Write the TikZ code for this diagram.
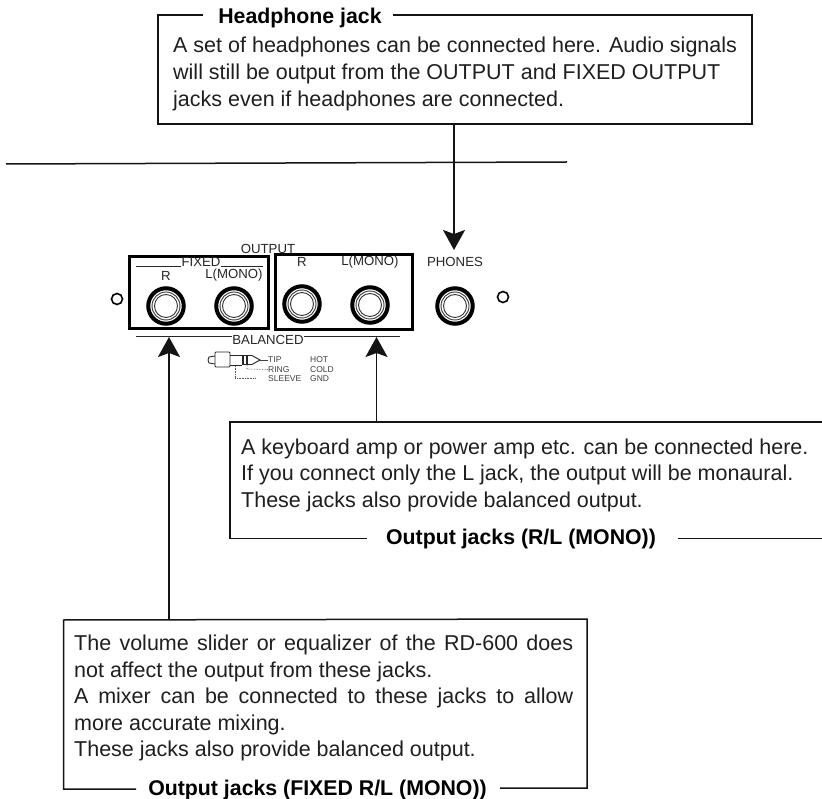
\documentclass[tikz,border=0pt]{standalone}
\usepackage{fontspec}
\setmainfont{Liberation Sans}
\usetikzlibrary{arrows.meta}
\tikzset{
  frame/.style={line width=1.5pt,black!92},
  arrowline/.style={line width=1.8pt,black!92,-{Stealth[length=20pt,width=22pt,inset=4pt]}},
  body/.style={anchor=base west,inner sep=0pt,font=\fontsize{21.5}{26}\selectfont,text=black!88},
  head/.style={anchor=base,inner sep=0pt,font=\fontsize{21.3}{26}\selectfont\bfseries,text=black},
  panel/.style={draw=black,line width=3pt,inner sep=0pt},
  tiny/.style={anchor=center,inner sep=0pt,font=\fontsize{13.2}{15}\selectfont,text=black!85},
  micro/.style={anchor=west,inner sep=0pt,font=\fontsize{8.5}{10}\selectfont,text=black!75},
  hole/.style={circle,draw=black,line width=1.6pt,minimum size=11pt,inner sep=0pt},
  jackring/.style={circle,draw=black,line width=4pt,minimum size=35.5pt,inner sep=0pt}
}
\newcommand{\jack}[2]{%
  \node[jackring] (#2) at (#1) {};
  \draw[black!80,line width=.9pt] (#1) circle (14pt);
  \draw[black!80,line width=.9pt] (#1) circle (11.5pt);
}
\begin{document}
\begin{tikzpicture}[x=1pt,y=-1pt]
\useasboundingbox (0,0) rectangle (822,799);
\fill[white] (0,0) rectangle (822,799);
% headphone box
\node[head] (hh) at (300,24) {Headphone jack};
\draw[frame] (393,15) -- (752,15) -- (752,124) -- (158,124) -- (158,15) -- (203,15);
\coordinate (hbot) at (454,124);
\node[body] (ht1) at (173,53) {A set of headphones can be connected here. Audio signals};
\node[body] (ht2) at (173,80) {will still be output from the OUTPUT and FIXED OUTPUT};
\node[body] (ht3) at (173,107) {jacks even if headphones are connected.};
% rule
\coordinate (ra) at (6,164); \coordinate (rb) at (567,162);
\draw[frame] (ra) -- (rb);
% panel
\node[panel,minimum width=139pt,minimum height=72.5pt] (pf) at (198.5,292.75) {};
\node[panel,minimum width=137pt,minimum height=75.5pt] (po) at (344,292.25) {};
\jack{166,306}{j1}
\jack{234,306}{j2}
\jack{302,304}{j3}
\jack{370,305}{j4}
\jack{455,306}{j5}
\node[hole] (c1) at (117,299) {};
\node[hole] (c2) at (503,297) {};
\node[tiny] (to) at (268,249) {OUTPUT};
\node[tiny] (tf) at (201,262) {FIXED};
\coordinate (f1) at (136,266.5); \coordinate (f2) at (263,266.5);
\draw[black!85,line width=.8pt] (f1) -- (tf.west |- f1) (tf.east |- f1) -- (f2);
\node[tiny] (r1) at (166,275.5) {R};
\node[tiny] (l1) at (234,275.5) {L(MONO)};
\node[tiny] (r2) at (302,262) {R};
\node[tiny] (l2) at (370,262) {L(MONO)};
\node[tiny] (ph) at (455,262) {PHONES};
\node[tiny] (bal) at (268,339.5) {BALANCED};
\coordinate (b1) at (136,336); \coordinate (b2) at (400,336);
\draw[black!85,line width=.8pt] (b1) -- (bal.west |- b1) (bal.east |- b1) -- (b2);
% plug
\draw[black!85,line width=.9pt,rounded corners=1pt] (215,352) rectangle (230,367);
\draw[black!85,line width=.9pt] (215,356) -- (209,357) -- (208,360) -- (209,363) -- (215,364);
\draw[black!85,line width=.9pt] (230,355) -- (242,355) (230,365) -- (242,365);
\draw[black!85,line width=1.6pt] (243,355.5) -- (243,364.5) (247,355.5) -- (247,364.5);
\draw[black!85,line width=.9pt] (242,355.5) -- (252,355.5) -- (260,360) -- (252,364.5) -- (242,364.5);
\node[micro] (tip) at (268,360) {TIP};
\node[micro] (ring) at (268,369.5) {RING};
\node[micro] (slv) at (268,379) {SLEEVE};
\node[micro] (hot) at (310,360) {HOT};
\node[micro] (cold) at (310,369.5) {COLD};
\node[micro] (gnd) at (310,379) {GND};
\draw[black!75,line width=.6pt] (260,360) -- (tip.west);
\draw[black!75,line width=.6pt,densely dotted] (247,365) -- (247,369) -- (ring.west);
\draw[black!65,line width=.6pt,densely dotted] (235,366) -- (235,378.5) -- (255,378.5);
% right box
\node[body] (rt1) at (241,454) {A keyboard amp or power amp etc. can be connected here.};
\node[body] (rt2) at (241,480.5) {If you connect only the L jack, the output will be monaural.};
\node[body] (rt3) at (241,507) {These jacks also provide balanced output.};
\node[head] (rh) at (521,544) {Output jacks (R/L (MONO))};
\coordinate (rtop) at (376.5,422); \coordinate (rr1) at (822,422); \coordinate (rr2) at (822,538.5);
\draw[frame] (rr1) -- (230,422) -- (230,538.5) -- (367,538.5);
\draw[frame] (678,538.5) -- (rr2);
% left box
\node[body] (lt1) at (74,650.5) {\makebox[499pt][s]{The volume slider or equalizer of the RD-600 does}};
\node[body] (lt2) at (74,677) {not affect the output from these jacks.};
\node[body] (lt3) at (74,703.5) {\makebox[499pt][s]{A mixer can be connected to these jacks to allow}};
\node[body] (lt4) at (74,730) {more accurate mixing.};
\node[body] (lt5) at (74,756) {These jacks also provide balanced output.};
\node[head] (lh) at (317.5,795) {Output jacks (FIXED R/L (MONO))};
\coordinate (ltop) at (169,619.5);
\draw[frame] (500,788) -- (587,788) -- (587,619) -- (63.5,620) -- (63.5,789) -- (136,789);
% arrows
\draw[arrowline] (hbot) -- (454,250);
\draw[arrowline] (ltop) -- (169,337);
\draw[arrowline] (rtop) -- (376.5,337);
\end{tikzpicture}
\end{document}
